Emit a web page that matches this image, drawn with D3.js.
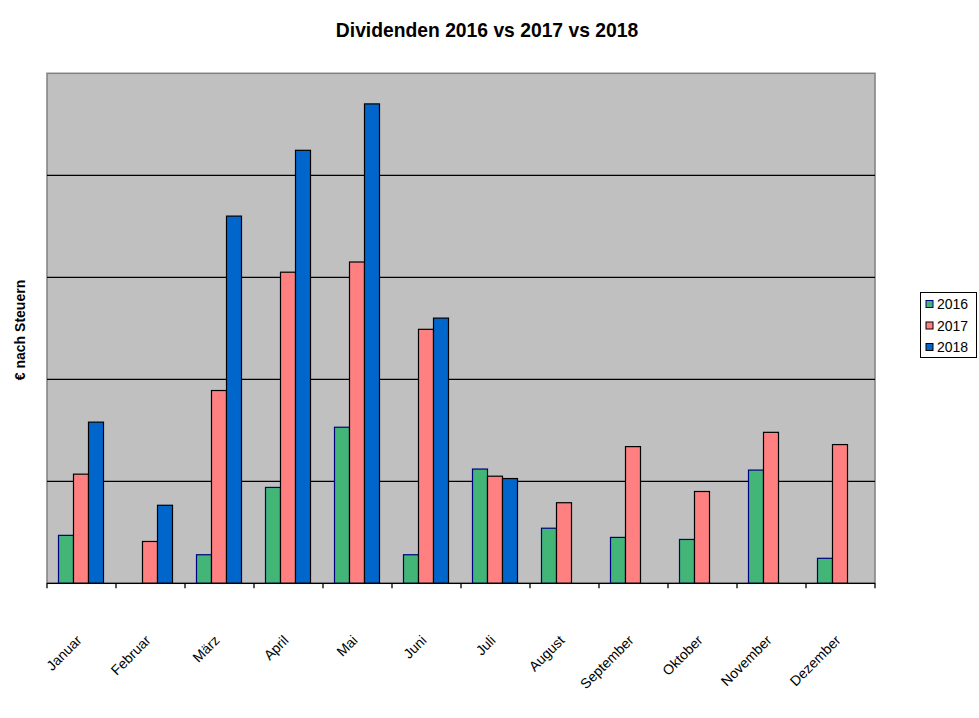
<!DOCTYPE html>
<html><head><meta charset="utf-8">
<script src="https://cdn.jsdelivr.net/npm/d3@7"></script>
<style>body{margin:0;background:#fff;}svg{display:block;}</style>
</head><body>
<svg id="c" width="979" height="718"></svg>
<script>
const months = ["Januar","Februar","März","April","Mai","Juni","Juli","August","September","Oktober","November","Dezember"];
const seriesNames = ["2016","2017","2018"];
const v2016 = [47,0,28,94,153,28,112,54,45,43,111,24.5];
const v2017 = [107,41,189,305,315,249,105,79,134,90,148,136];
const v2018 = [158,76.5,360,424.5,470,260,102.7,null,null,null,null,null];
const yTicks = [0,100,200,300,400,500];
const colors = ["#43B577","#FF8080","#0066CC"];
const strokes = ["#000080","#000000","#000000"];

const svg = d3.select("#c");
const L=47,R=875,T=73.3,B=583.3;
const x0 = d3.scaleBand().domain(months).range([L,R]).padding(0);
const x1 = d3.scaleBand().domain(seriesNames).range([11.5,56.5]).padding(0);
const y = d3.scaleLinear().domain([0,500]).range([B,T]);

svg.append("rect").attr("x",L).attr("y",T).attr("width",R-L).attr("height",B-T)
  .attr("fill","#C0C0C0").attr("stroke","#808080").attr("stroke-width",1.5);

svg.append("g").selectAll("line").data(yTicks.slice(1,-1)).join("line")
  .attr("x1",L).attr("x2",R).attr("y1",d=>y(d)).attr("y2",d=>y(d))
  .attr("stroke","#000").attr("stroke-width",1.3);

const data = [v2016,v2017,v2018];
const bars = [];
months.forEach((m,i)=>seriesNames.forEach((s,j)=>{
  const v=data[j][i]; if(v) bars.push({m,s,j,v});
}));
svg.append("g").selectAll("rect").data(bars).join("rect")
  .attr("x",d=>x0(d.m)+x1(d.s)).attr("width",x1.bandwidth())
  .attr("y",d=>y(d.v)).attr("height",d=>B-y(d.v))
  .attr("fill",d=>colors[d.j]).attr("stroke",d=>strokes[d.j]).attr("stroke-width",1.2);

const xa = svg.append("g").attr("transform",`translate(0,${B})`);
xa.append("line").attr("x1",L).attr("x2",R).attr("stroke","#000").attr("stroke-width",1.3);
const tickPos = months.map(m=>x0(m)).concat([R]);
xa.selectAll("line.t").data(tickPos).join("line").attr("class","t")
  .attr("x1",d=>d).attr("x2",d=>d).attr("y1",0).attr("y2",5).attr("stroke","#000").attr("stroke-width",1.3);
xa.selectAll("text").data(months).join("text")
  .attr("transform",d=>`translate(${x0(d)+x0.bandwidth()/2+1},${58}) rotate(-45)`)
  .attr("text-anchor","end").attr("font-family","Liberation Sans, Arial, sans-serif")
  .attr("font-size",14).text(d=>d);

svg.append("text").attr("x",487).attr("y",37).attr("text-anchor","middle")
  .attr("font-family","Liberation Sans, Arial, sans-serif").attr("font-weight","bold")
  .attr("font-size",19.3).text("Dividenden 2016 vs 2017 vs 2018");

svg.append("text").attr("transform","translate(25,330) rotate(-90)").attr("text-anchor","middle")
  .attr("font-family","Liberation Sans, Arial, sans-serif").attr("font-weight","bold")
  .attr("font-size",14).text("€ nach Steuern");

const lg = svg.append("g");
lg.append("rect").attr("x",920.5).attr("y",292.5).attr("width",56).attr("height",65)
  .attr("fill","#fff").attr("stroke","#000").attr("stroke-width",1);
seriesNames.forEach((s,j)=>{
  const cy = 304+j*21.5;
  lg.append("rect").attr("x",926).attr("y",cy-3.5).attr("width",7).attr("height",7)
    .attr("fill",colors[j]).attr("stroke",strokes[j]).attr("stroke-width",1);
  lg.append("text").attr("x",937).attr("y",cy+5).attr("font-family","Liberation Sans, Arial, sans-serif")
    .attr("font-size",14).text(s);
});
</script>
</body></html>
